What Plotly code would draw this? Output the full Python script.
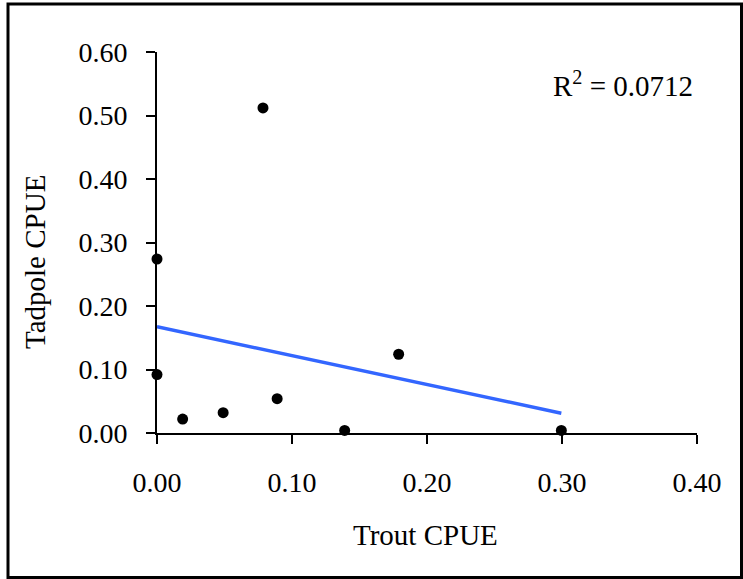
import numpy as np
import plotly.graph_objects as go

# Data
trout_cpue = [0.000, 0.000, 0.019, 0.049, 0.089, 0.0785, 0.179, 0.139, 0.2995]
tadpole_cpue = [0.274, 0.092, 0.022, 0.032, 0.054, 0.512, 0.124, 0.004, 0.004]
x_ticks = [0.0, 0.1, 0.2, 0.3, 0.4]
y_ticks = [0.0, 0.1, 0.2, 0.3, 0.4, 0.5, 0.6]
r2_text = "R<sup>2</sup> = 0.0712"

# Linear trendline (least squares) over the data range
slope, intercept = np.polyfit(trout_cpue, tadpole_cpue, 1)
fit_x = [min(trout_cpue), max(trout_cpue)]
fit_y = [intercept + slope * v for v in fit_x]

FONT = "Liberation Serif, Times New Roman, serif"
FS = 28
FS_T = 29
W, H = 743, 579
ML, MR, MT, MB = 157, 46, 52, 146
PW, PH = W - ML - MR, H - MT - MB

def px_x(p):
    return (p - ML) / PW

def px_y(p):
    return (H - MB - p) / PH

fig = go.Figure()
fig.add_trace(go.Scatter(x=fit_x, y=fit_y, mode="lines",
                         line=dict(color="#3366FF", width=3.5),
                         cliponaxis=False, hoverinfo="skip"))
fig.add_trace(go.Scatter(x=trout_cpue, y=tadpole_cpue, mode="markers",
                         marker=dict(color="black", size=11),
                         cliponaxis=False))

axis_common = dict(showline=True, linecolor="black", linewidth=2,
                   ticks="outside", ticklen=9, tickwidth=2, tickcolor="black",
                   showgrid=False, zeroline=False,
                   tickfont=dict(family=FONT, size=FS, color="black"))

fig.update_xaxes(range=[0, 0.4], tickvals=x_ticks,
                 ticktext=[f"{v:.2f}" for v in x_ticks],
                 ticklabelstandoff=14, **axis_common)
fig.update_yaxes(range=[0, 0.6], tickvals=y_ticks,
                 ticktext=[f"{v:.2f}" for v in y_ticks],
                 ticklabelstandoff=13, **axis_common)

fig.update_layout(
    width=W, height=H,
    font=dict(family=FONT, size=FS, color="black"),
    margin=dict(l=ML, r=MR, t=MT, b=MB),
    paper_bgcolor="white", plot_bgcolor="white",
    showlegend=False,
    annotations=[
        dict(text="Trout CPUE", x=px_x(425), y=px_y(535), xref="paper", yref="paper",
             showarrow=False, font=dict(family=FONT, size=FS_T, color="black"),
             xanchor="center", yanchor="middle"),
        dict(text="Tadpole CPUE", x=px_x(35), y=px_y(262), xref="paper", yref="paper",
             showarrow=False, textangle=-90, font=dict(family=FONT, size=FS_T, color="black"),
             xanchor="center", yanchor="middle"),
        dict(text=r2_text, x=px_x(623), y=px_y(84), xref="paper", yref="paper",
             showarrow=False, font=dict(family=FONT, size=FS_T, color="black"),
             xanchor="center", yanchor="middle"),
    ],
    shapes=[
        dict(type="rect", xref="paper", yref="paper",
             x0=px_x(8), x1=px_x(741.5), y0=px_y(577.5), y1=px_y(4),
             line=dict(color="black", width=3), fillcolor="rgba(0,0,0,0)"),
    ],
)

fig.write_html("out.html")
